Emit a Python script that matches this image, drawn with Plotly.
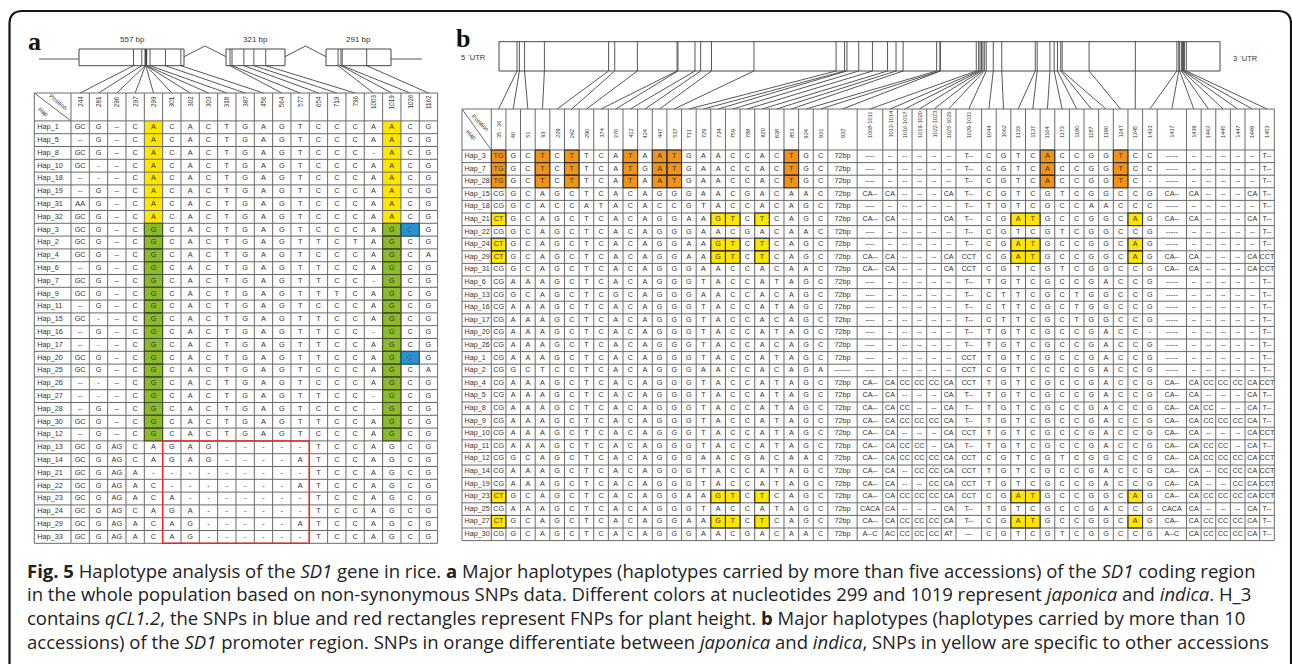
import plotly.graph_objects as go

# ---------------- Panel a: SD1 coding region, non-synonymous SNPs ----------------
a_positions = ["244", "281", "296", "297", "299", "301", "302", "303", "318", "387",
               "456", "564", "577", "654", "719", "796", "1003", "1019", "1026", "1162"]
a_exon_lengths = ["557 bp", "321 bp", "291 bp"]
a_haps = ["Hap_1", "Hap_5", "Hap_8", "Hap_10", "Hap_18", "Hap_19", "Hap_31", "Hap_32",
          "Hap_3", "Hap_2", "Hap_4", "Hap_6", "Hap_7", "Hap_9", "Hap_11", "Hap_15",
          "Hap_16", "Hap_17", "Hap_20", "Hap_25", "Hap_26", "Hap_27", "Hap_28", "Hap_30",
          "Hap_12", "Hap_13", "Hap_14", "Hap_21", "Hap_22", "Hap_23", "Hap_24", "Hap_29",
          "Hap_33"]
a_alleles = [
    "GC G -- C A C A C T G A G T C C C A A C G",
    "-- G -- C A C A C T G A G T C C C A A C G",
    "GC G -- C A C A C T G A G T C C C - A C G",
    "GC - -- C A C A C T G A G T C C C A A C G",
    "-- - -- C A C A C T G A G T C C C A A C G",
    "-- G -- C A C A C T G A G T C C C A A C G",
    "AA G -- C A C A C T G A G T C C C A A C G",
    "GC G -- C A C A C T G A G T C C C A A C G",
    "GC G -- C G C A C T G A G T C C C A G C G",
    "GC G -- C G C A C T G A G T T C T A G C G",
    "GC G -- C G C A C T G A G T C C C A G C A",
    "-- G -- C G C A C T G A G T T C C A G C G",
    "GC G -- C G C A C T G A G T T C C - G C G",
    "GC G -- C G C A C T G A G T T T C A G C G",
    "-- G -- C G C A C T G A G T C C C A G C G",
    "GC - -- C G C A C T G A G T T C C A G C G",
    "-- G -- C G C A C T G A G T T C C - G C G",
    "-- - -- C G C A C T G A G T T C C A G C G",
    "GC G -- C G C A C T G A G T T C C A G G G",
    "GC G -- C G C A C T G A G T C C C A G C A",
    "-- - -- C G C A C T G A G T C C C A G C G",
    "-- - -- C G C A C T G A G T T C C - G C G",
    "-- G -- C G C A C T G A G T C C C - G C G",
    "GC G -- C G C A C T G A G T T C C A G C G",
    "-- G -- C G C A C T G A G T C C C A G C G",
    "GC G AG C A G A G - - - - - T C C A G C G",
    "GC G AG C A G A G - - - - A T C C A G C G",
    "GC G AG A - - - - - - - - - T C C A G C G",
    "GC G AG A C - - - - - - - A T C C A G C G",
    "GC G AG A C A - - - - - - - T C C A G C G",
    "GC G AG C A G A - - - - - - T C C A G C G",
    "GC G AG A C A G - - - - - A T C C A G C G",
    "GC G AG A C A G - - - - - - T C C A G C G",
]
a_japonica_haps = ["Hap_1", "Hap_5", "Hap_8", "Hap_10", "Hap_18", "Hap_19", "Hap_31", "Hap_32"]
a_indica_haps = ["Hap_3", "Hap_2", "Hap_4", "Hap_6", "Hap_7", "Hap_9", "Hap_11", "Hap_15",
                 "Hap_16", "Hap_17", "Hap_20", "Hap_25", "Hap_26", "Hap_27", "Hap_28",
                 "Hap_30", "Hap_12"]
a_subspecies_cols = ["299", "1019"]
a_fnp_cells = [("Hap_3", "1026"), ("Hap_20", "1026")]
a_deletion_block = ("Hap_13", "Hap_33", "301", "577")

# ---------------- Panel b: SD1 promoter region ----------------
b_positions = ["35 - 36", "40", "51", "93", "229", "242", "290", "374", "376", "412",
               "424", "447", "537", "711", "729", "734", "759", "788", "820", "838",
               "853", "924", "931", "932", "1008-1011", "1013-1014", "1016-1017",
               "1019-1020", "1022-1023", "1025-1026", "1029-1031", "1044", "1062",
               "1133", "1137", "1164", "1173", "1180", "1187", "1190", "1247", "1345",
               "1433", "1437", "1439", "1443", "1445", "1447", "1449", "1453"]
b_haps = ["Hap_3", "Hap_7", "Hap_28", "Hap_15", "Hap_18", "Hap_21", "Hap_22", "Hap_24",
          "Hap_29", "Hap_31", "Hap_6", "Hap_13", "Hap_16", "Hap_17", "Hap_20", "Hap_26",
          "Hap_1", "Hap_2", "Hap_4", "Hap_5", "Hap_8", "Hap_9", "Hap_10", "Hap_11",
          "Hap_12", "Hap_14", "Hap_19", "Hap_23", "Hap_25", "Hap_27", "Hap_30"]
b_alleles = [
    "TG G C T C T T C A T A A T G A A C C A C T G C 72bp ---- -- -- -- -- -- T-- C G T C A C C G G T C C ----- -- -- -- -- -- T--",
    "TG G C T C T T C A T G A T G A A C C A C T G C 72bp ---- -- -- -- -- -- T-- C G T C A C C G G T C C ----- -- -- -- -- -- T--",
    "TG G C T C T T C A T A A T G A A C C A C T G C 72bp ---- -- -- -- -- -- T-- C G T C A C C G G T C - ----- -- -- -- -- -- T--",
    "CG G C A G C T C A C A G G G A A C G A C A A C 72bp CA-- CA -- -- -- CA T-- C G T C G T C G G C C G CA-- CA -- -- -- CA T--",
    "CG G C A C C A T A C A C C G T A C C A C A G C 72bp ---- -- -- -- -- -- T-- T G T C G C C A A C C C ----- -- -- -- -- -- T--",
    "CT G C A G C T C A C A G G A A G T C T C A G C 72bp CA-- CA -- -- -- CA T-- C G A T G C C G G C A G CA-- CA -- -- -- CA T--",
    "CG G C A G C T C A C A G G G A A C G A C A A C 72bp ---- -- -- -- -- -- T-- C G T C G T C G G C C G ----- -- -- -- -- -- T--",
    "CT G C A G C T C A C A G G A A G T C T C A G C 72bp ---- -- -- -- -- -- T-- C G A T G C C G G C A G ----- -- -- -- -- -- T--",
    "CT G C A G C T C A C A G G A A G T C T C A G C 72bp CA-- CA -- -- -- CA CCT C G A T G C C G G C A G CA-- CA -- -- -- CA CCT",
    "CG G C A G C T C A C A G G G A A C C A C A A C 72bp CA-- CA -- -- -- CA CCT C G T C G T C G G C C G CA-- CA -- -- -- CA CCT",
    "CG A A A G C T C A C A G G G T A C C A T A G C 72bp ---- -- -- -- -- -- T-- T G T C G C C G A C C G ----- -- -- -- -- -- T--",
    "CG G C A G C T C G C A G G G A A C C A C A G C 72bp ---- -- -- -- -- -- T-- C T T C G C T G G C C G ----- -- -- -- -- -- T--",
    "CG A A A G C T C A C A G G G T A C C A T A G C 72bp ---- -- -- -- -- -- T-- C T T C G C T G G C C G ----- -- -- -- -- -- T--",
    "CG A A A G C T C A C A G G G T A C C A C A G C 72bp ---- -- -- -- -- -- T-- C T T C G C T G G C C G ----- -- -- -- -- -- T--",
    "CG A A A G C T C A C A G G G T A C C A T A G C 72bp ---- -- -- -- -- -- T-- T G T C G C C G A C C - ----- -- -- -- -- -- T--",
    "CG A A A G C T C A C A G G G T A C C A C A G C 72bp ---- -- -- -- -- -- T-- T G T C G C C G A C C G ----- -- -- -- -- -- T--",
    "CG A A A G C T C A C A G G G T A C C A T A G C 72bp ---- -- -- -- -- -- CCT T G T C G C C G A C C G ----- -- -- -- -- -- T--",
    "CG G C T C C T C A C A G G G A A C C A C A G A ------- ---- -- -- -- -- -- CCT C G T C C C C G A C C G ----- -- -- -- -- -- T--",
    "CG A A A G C T C A C A G G G T A C C A T A G C 72bp CA-- CA CC CC CC CA CCT T G T C G C C G A C C G CA-- CA CC CC CC CA CCT",
    "CG A A A G C T C A C A G G G T A C C A T A G C 72bp CA-- CA -- -- -- CA T-- T G T C G C C G A C C G CA-- CA -- -- -- CA T--",
    "CG A A A G C T C A C A G G G T A C C A T A G C 72bp CA-- CA CC -- -- CA T-- T G T C G C C G A C C G CA-- CA CC -- -- CA T--",
    "CG A A A G C T C A C A G G G T A C C A T A G C 72bp CA-- CA CC CC CC CA T-- T G T C G C C G A C C G CA-- CA CC CC CC CA T--",
    "CG A A A G C T C A C A G G G T A C C A T A G C 72bp CA-- CA -- -- -- CA CCT T G T C G C C G A C C G CA-- CA -- -- -- CA CCT",
    "CG A A A G C T C A C A G G G T A C C A T A G C 72bp CA-- CA CC CC -- CA T-- T G T C G C C G A C C G CA-- CA CC CC -- CA T--",
    "CG G C A G C T C A C A G G G A A C G A C A A C 72bp CA-- CA CC CC CC CA CCT C G T C G T C G G C C G CA-- CA CC CC CC CA CCT",
    "CG A A A G C T C A C A G G G T A C C A T A G C 72bp CA-- CA -- CC CC CA CCT T G T C G C C G A C C G CA-- CA -- CC CC CA CCT",
    "CG A A A G C T C A C A G G G T A C C A T A G C 72bp CA-- CA -- -- CC CA CCT T G T C G C C G A C C G CA-- CA -- -- CC CA CCT",
    "CT G C A G C T C A C A G G A A G T C T C A G C 72bp CA-- CA CC CC CC CA CCT C G A T G C C G G C A G CA-- CA CC CC CC CA CCT",
    "CG A A A G C T C A C A G G G T A C C A T A G C 72bp CACA CA -- -- -- CA T-- T G T C G C C G A C C G CACA CA -- -- -- CA T--",
    "CT G C A G C T C A C A G G A A G T C T C A G C 72bp CA-- CA CC CC CC CA T-- C G A T G C C G G C A G CA-- CA CC CC CC CA T--",
    "CG G C A G C T C A C A G G G A A C G A C A A C 72bp A--C AC CC CC CC AT --- C G T C G T C G G C C G A--C CA CC CC CC CA T--",
]
b_subspecies_haps = ["Hap_3", "Hap_7", "Hap_28"]
b_subspecies_cols = ["35 - 36", "93", "242", "412", "447", "537", "853", "1164", "1247"]
b_other_haps = ["Hap_21", "Hap_24", "Hap_29", "Hap_23", "Hap_27"]
b_other_cols = ["35 - 36", "734", "759", "820", "1133", "1137", "1345"]

caption_lines = [
    "<b>Fig. 5</b> Haplotype analysis of the <i>SD1</i> gene in rice. <b>a</b> Major haplotypes "
    "(haplotypes carried by more than five accessions) of the <i>SD1</i> coding region",
    "in the whole population based on non-synonymous SNPs data. Different colors at nucleotides "
    "299 and 1019 represent <i>japonica</i> and <i>indica</i>. H_3",
    "contains <i>qCL1.2</i>, the SNPs in blue and red rectangles represent FNPs for plant height. "
    "<b>b</b> Major haplotypes (haplotypes carried by more than 10",
    "accessions) of the <i>SD1</i> promoter region. SNPs in orange differentiate between "
    "<i>japonica</i> and <i>indica</i>, SNPs in yellow are specific to other accessions",
]

# ---------------- styling ----------------
W, H = 1292, 664
CELL_FONT = "Liberation Sans, Arial, Helvetica, sans-serif"
CAP_FONT = "Open Sans, Noto Sans, sans-serif"
LETTER_FONT = "Liberation Serif, Times New Roman, serif"
TXT = "#333333"
GRID = "#6a6a6a"
YELLOW = "#FFE600"
GREEN = "#8DBA2C"
BLUE = "#1E96D4"
ORANGE = "#F29318"
RED = "#E8262C"

shapes, annotations, traces = [], [], []


def segments_trace(segs, color, width):
    xs, ys = [], []
    for x0, y0, x1, y1 in segs:
        xs += [x0, x1, None]
        ys += [y0, y1, None]
    return go.Scatter(x=xs, y=ys, mode="lines", line=dict(color=color, width=width),
                      hoverinfo="skip", showlegend=False)


def text_trace(xs, ys, texts, size, color, pos="middle center"):
    return go.Scatter(x=xs, y=ys, text=texts, mode="text", textposition=pos,
                      textfont=dict(size=size, color=color, family=CELL_FONT),
                      hoverinfo="skip", showlegend=False, cliponaxis=False)


def cell_rect(x0, y0, x1, y1, fill, border=None):
    shapes.append(dict(type="rect", x0=x0, y0=y0, x1=x1, y1=y1, fillcolor=fill,
                       line=dict(width=0), layer="below"))
    if border:
        shapes.append(dict(type="rect", x0=x0, y0=y0, x1=x1, y1=y1,
                           line=dict(color=border, width=1), layer="above"))


def label(x, y, text, size, angle=0, xanchor="center", yanchor="middle", family=CELL_FONT,
          color=TXT):
    annotations.append(dict(x=x, y=y, xref="x", yref="y", text=text, showarrow=False,
                            textangle=angle, xanchor=xanchor, yanchor=yanchor,
                            font=dict(size=size, family=family, color=color),
                            borderpad=0))


def first_pos(lbl):
    return int(lbl.replace(" ", "").split("-")[0])


# ================= Panel a =================
A_X0, A_HAPW, A_CW = 34.3, 36.7, 18.33
A_Y0, A_HDR, A_RH = 93.0, 27.9, 12.8
a_grid = [row.split() for row in a_alleles]


def a_col_left(i):
    return A_X0 + A_HAPW + i * A_CW


def a_row_top(r):
    return A_Y0 + A_HDR + r * A_RH


A_X1 = a_col_left(len(a_positions))
A_Y1 = a_row_top(len(a_haps))

# subspecies colouring and FNP cells
for r, hap in enumerate(a_haps):
    for pos in a_subspecies_cols:
        c = a_positions.index(pos)
        if hap in a_japonica_haps:
            cell_rect(a_col_left(c), a_row_top(r), a_col_left(c + 1), a_row_top(r + 1), YELLOW)
        elif hap in a_indica_haps:
            cell_rect(a_col_left(c), a_row_top(r), a_col_left(c + 1), a_row_top(r + 1), GREEN,
                      "#3f4a22")
for hap, pos in a_fnp_cells:
    r, c = a_haps.index(hap), a_positions.index(pos)
    cell_rect(a_col_left(c), a_row_top(r), a_col_left(c + 1), a_row_top(r + 1), BLUE, "#1c4f70")

# table grid
segs = []
for r in range(len(a_haps) + 1):
    segs.append((A_X0, a_row_top(r), A_X1, a_row_top(r)))
segs.append((A_X0, A_Y0, A_X1, A_Y0))
segs.append((A_X0, A_Y0, A_X0, A_Y1))
for c in range(len(a_positions) + 1):
    segs.append((a_col_left(c), A_Y0, a_col_left(c), A_Y1))
segs.append((A_X0, A_Y0, A_X0 + A_HAPW, A_Y0 + A_HDR))

# gene model of the three exons
EX = [(79, 184), (226, 285), (326, 391)]
EY0, EY1 = 49.0, 65.7


def a_map(p):
    if p <= 557:
        return EX[0][0] + p * (EX[0][1] - EX[0][0]) / 470.0
    if p <= 878:
        return EX[1][0] + (p - 538) * 0.154
    return EX[2][0] + (p - 936) * 0.18


gene = [(39, 59, EX[0][0], 59), (EX[2][1], 59, 422, 59),
        (EX[0][1], 56.7, (EX[0][1] + EX[1][0]) / 2, 46), ((EX[0][1] + EX[1][0]) / 2, 46, EX[1][0], 56.7),
        (EX[1][1], 56.7, (EX[1][1] + EX[2][0]) / 2, 46), ((EX[1][1] + EX[2][0]) / 2, 46, EX[2][0], 56.7)]
for x0, x1 in EX:
    shapes.append(dict(type="rect", x0=x0, x1=x1, y0=EY0, y1=EY1, fillcolor="white",
                       line=dict(color="#444444", width=1), layer="below"))
for c, pos in enumerate(a_positions):
    gx = a_map(int(pos))
    gene.append((gx, EY0, gx, EY1))
    gene.append((gx, EY1, (a_col_left(c) + a_col_left(c + 1)) / 2, A_Y0))
for (x0, x1), txt in zip(EX, a_exon_lengths):
    label((x0 + x1) / 2 if txt != "557 bp" else 132.7, 39.3, txt, 8)

traces.append(segments_trace(gene, "#444444", 0.9))
traces.append(segments_trace(segs, GRID, 1))

# cell text
tx, ty, tt, rx, ry, rt = [], [], [], [], [], []
for r, hap in enumerate(a_haps):
    yc = a_row_top(r) + A_RH / 2
    for c, allele in enumerate(a_grid[r]):
        xc = (a_col_left(c) + a_col_left(c + 1)) / 2
        if (hap, a_positions[c]) in a_fnp_cells:
            rx.append(xc); ry.append(yc); rt.append(allele)
        else:
            tx.append(xc); ty.append(yc); tt.append(allele)
traces.append(text_trace(tx, ty, tt, 7.3, TXT))
traces.append(text_trace(rx, ry, rt, 7.3, "#E02020"))
traces.append(text_trace([A_X0 + 3] * len(a_haps),
                         [a_row_top(r) + A_RH / 2 for r in range(len(a_haps))],
                         a_haps, 7.3, TXT, "middle right"))

for c, pos in enumerate(a_positions):
    label((a_col_left(c) + a_col_left(c + 1)) / 2, 101.5, pos, 6.3, angle=-90)
label(58.3, 101.5, "Position", 6, angle=40)
label(43.5, 111.5, "Hap", 6, angle=40)

# deletion block outlined in red
h0, h1, p0, p1 = a_deletion_block
shapes.append(dict(type="rect", x0=a_col_left(a_positions.index(p0)), y0=a_row_top(a_haps.index(h0)),
                   x1=a_col_left(a_positions.index(p1) + 1), y1=a_row_top(a_haps.index(h1) + 1),
                   line=dict(color=RED, width=1.5), layer="above"))

label(34, 41, "<b>a</b>", 26, family=LETTER_FONT, color="#111111")

# ================= Panel b =================
B_X0, B_X1 = 462.0, 1274.3
B_Y0, B_HDR, B_RH = 109.0, 41.0, 12.6
b_grid = [row.split() for row in b_alleles]


def b_units(lbl):
    if lbl in ("932", "1437"):
        return 2.0
    if lbl in ("1008-1011", "1029-1031"):
        return 1.75
    return 1.0


UNIT = (B_X1 - B_X0) / (2.0 + sum(b_units(p) for p in b_positions))
b_edges = [B_X0, B_X0 + 2 * UNIT]
for p in b_positions:
    b_edges.append(b_edges[-1] + b_units(p) * UNIT)


def b_row_top(r):
    return B_Y0 + B_HDR + r * B_RH


B_Y1 = b_row_top(len(b_haps))

for r, hap in enumerate(b_haps):
    for cols, haps, colr in ((b_subspecies_cols, b_subspecies_haps, ORANGE),
                             (b_other_cols, b_other_haps, YELLOW)):
        if hap in haps:
            for pos in cols:
                c = b_positions.index(pos)
                cell_rect(b_edges[c + 1], b_row_top(r), b_edges[c + 2], b_row_top(r + 1), colr,
                          "#2a2a2a")

segs = []
for r in range(len(b_haps) + 1):
    segs.append((B_X0, b_row_top(r), B_X1, b_row_top(r)))
segs.append((B_X0, B_Y0, B_X1, B_Y0))
for e in b_edges:
    segs.append((e, B_Y0, e, B_Y1))
segs.append((B_X0, B_Y0, b_edges[1], B_Y0 + B_HDR))

# promoter model
PX0, PX1, PY0, PY1 = 499.0, 1220.0, 41.7, 71.0
shapes.append(dict(type="rect", x0=PX0, x1=PX1, y0=PY0, y1=PY1, fillcolor="white",
                   line=dict(color="#444444", width=1), layer="below"))
gene = []
for c, pos in enumerate(b_positions):
    gx = 500.5 + 0.472 * first_pos(pos)
    gene.append((gx, PY0, gx, PY1))
    gene.append((gx, PY1, (b_edges[c + 1] + b_edges[c + 2]) / 2, B_Y0))
traces.append(segments_trace(gene, "#444444", 0.9))
traces.append(segments_trace(segs, GRID, 1))
label(473, 57, "5 \u00b4UTR", 7.5)
label(1245, 58, "3 \u00b4UTR", 7.5)

tx, ty, tt = [], [], []
for r in range(len(b_haps)):
    yc = b_row_top(r) + B_RH / 2
    for c, allele in enumerate(b_grid[r]):
        tx.append((b_edges[c + 1] + b_edges[c + 2]) / 2)
        ty.append(yc)
        tt.append(allele)
traces.append(text_trace(tx, ty, tt, 7.2, TXT))
traces.append(text_trace([B_X0 + 2.5] * len(b_haps),
                         [b_row_top(r) + B_RH / 2 for r in range(len(b_haps))],
                         b_haps, 7.2, TXT, "middle right"))

for c, pos in enumerate(b_positions):
    label((b_edges[c + 1] + b_edges[c + 2]) / 2, 139, pos, 5.6, angle=-90, yanchor="bottom")
label(480.5, 122.5, "Position", 6, angle=45)
label(471.5, 134.5, "Hap", 6, angle=45)

label(463, 38, "<b>b</b>", 26, family=LETTER_FONT, color="#111111")

# ================= caption and frame =================
for i, line in enumerate(caption_lines):
    annotations.append(dict(x=25, y=570 + 23.8 * i, xref="x", yref="y", text=line, showarrow=False,
                            xanchor="left", yanchor="middle",
                            font=dict(size=18.5, family=CAP_FONT, color="#222222")))

shapes.append(dict(type="path",
                   path="M 9.5 664 L 9.5 24 Q 9.5 11 22.5 11 L 1278 11 Q 1291 11 1291 24 L 1291 664",
                   line=dict(color="#161616", width=2.2), layer="above"))

fig = go.Figure(traces)
fig.update_layout(
    width=W, height=H, margin=dict(l=0, r=0, t=0, b=0, pad=0),
    paper_bgcolor="white", plot_bgcolor="white",
    xaxis=dict(range=[0, W], visible=False, fixedrange=True),
    yaxis=dict(range=[H, 0], visible=False, fixedrange=True),
    shapes=shapes, annotations=annotations, showlegend=False, hovermode=False,
)
fig.write_html("out.html", config={"displayModeBar": False})
